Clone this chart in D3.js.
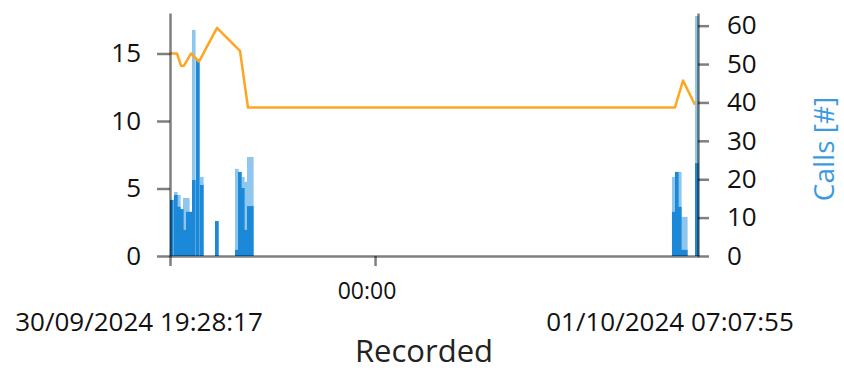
<!DOCTYPE html>
<html>
<head>
<meta charset="utf-8">
<script src="https://cdn.jsdelivr.net/npm/d3@7"></script>
<style>
  body { margin: 0; background: #fff; }
  svg { display: block; font-family: 'Open Sans', 'Noto Sans', sans-serif; }
</style>
</head>
<body>
<svg id="chart" width="844" height="374"></svg>
<script>
const parseTime = d3.timeParse('%d/%m/%Y %H:%M:%S')

// recording range + the one labelled tick in between
const timeRange = ['30/09/2024 19:28:17', '01/10/2024 07:07:55']
const midnight = '01/10/2024 00:00:00'
const midnightLabel = '00:00'
const xTitle = 'Recorded'
const rightTitle = 'Calls [#]'

// orange line, left axis
const lineTimes = [
  '30/09/2024 19:28:17', '30/09/2024 19:37:34', '30/09/2024 19:42:52', '30/09/2024 19:46:50',
  '30/09/2024 19:56:07', '30/09/2024 20:06:43', '30/09/2024 20:30:34', '30/09/2024 21:01:02',
  '30/09/2024 21:11:38', '01/10/2024 06:37:25', '01/10/2024 06:48:01', '01/10/2024 07:03:55'
]
const lineValues = [15.0, 15.0, 14.1, 14.1, 15.0, 14.4, 16.9, 15.2, 11.0, 11.0, 13.0, 11.2]

// calls per 4 minute bucket, right axis (peak = light top, base = solid part)
const callTimes = [
  '30/09/2024 19:28:17', '30/09/2024 19:33:35', '30/09/2024 19:37:34', '30/09/2024 19:41:32',
  '30/09/2024 19:45:31', '30/09/2024 19:49:29', '30/09/2024 19:53:28', '30/09/2024 19:57:26',
  '30/09/2024 20:02:44', '30/09/2024 20:08:02', '30/09/2024 20:27:55', '30/09/2024 20:54:25',
  '30/09/2024 20:58:23', '30/09/2024 21:02:22', '30/09/2024 21:06:20', '30/09/2024 21:10:19',
  '30/09/2024 21:14:17', '01/10/2024 06:33:26', '01/10/2024 06:37:25', '01/10/2024 06:41:23',
  '01/10/2024 06:45:22', '01/10/2024 06:49:20', '01/10/2024 07:04:00'
]
const callsPeak = [14.6, 16.7, 15.9, 12.2, 15.1, 15.1, 11.5, 58.9, 51.3, 20.6, 9.1, 22.7,
  21.9, 20.6, 19.3, 25.8, 25.8, 20.6, 21.9, 21.9, 10.2, 10.2, 62.5]
const callsBase = [14.6, 15.9, 12.8, 12.2, 6.8, 11.5, 11.5, 19.8, 51.3, 18.5, 9.1, 1.6,
  21.9, 17.7, 6.8, 13.0, 13.0, 11.5, 21.9, 12.8, 1.6, 1.6, 24.2]

const leftTicks = [0, 5, 10, 15]
const rightTicks = [0, 10, 20, 30, 40, 50, 60]

//
const margin = { top: 13, right: 146, bottom: 118, left: 170 }
const width = 844 - margin.left - margin.right
const height = 374 - margin.top - margin.bottom
const axisStroke = '#000'
const labelFont = "'Open Sans', 'Noto Sans', sans-serif"

const svg = d3.select('#chart')
const g = svg.append('g').attr('transform', `translate(${margin.left},${margin.top})`)

const x = d3.scaleTime()
  .domain(timeRange.map(parseTime))
  .range([0, width])
const yLeft = d3.scaleLinear().domain([0, 18]).range([height, 0])
const yRight = d3.scaleLinear().domain([0, 63.3]).range([height, 0])

const bucket = 4 * 60 * 1000
const calls = callTimes.map((t, i) => ({ t: parseTime(t), peak: callsPeak[i], base: callsBase[i] }))
// small overlap so neighbouring buckets touch
const barW = d => x(new Date(+d.t + bucket)) - x(d.t) + 0.6

// bars: light peak first, solid part on top
g.append('g').selectAll('rect')
  .data(calls)
  .join('rect')
  .attr('x', d => x(d.t))
  .attr('width', barW)
  .attr('y', d => yRight(d.peak))
  .attr('height', d => height - yRight(d.peak))
  .attr('fill', '#8ec6ee')

g.append('g').selectAll('rect')
  .data(calls)
  .join('rect')
  .attr('x', d => x(d.t))
  .attr('width', barW)
  .attr('y', d => yRight(d.base))
  .attr('height', d => height - yRight(d.base))
  .attr('fill', '#1b88d8')

// line
const lineData = lineTimes.map((t, i) => ({ t: parseTime(t), v: lineValues[i] }))
g.append('path')
  .attr('d', d3.line().x(d => x(d.t)).y(d => yLeft(d.v))(lineData))
  .attr('fill', 'none')
  .attr('stroke', '#ffa51f')
  .attr('stroke-width', 2.5)
  .attr('stroke-linejoin', 'round')

// axes
function styleAxis (sel) {
  sel.selectAll('path, line')
    .attr('stroke', axisStroke)
    .attr('stroke-opacity', 0.5)
    .attr('stroke-width', 2.5)
  sel.selectAll('text')
    .attr('fill', '#111')
    .attr('font-size', 26)
    .attr('font-family', labelFont)
}

g.append('g')
  .call(d3.axisLeft(yLeft).tickValues(leftTicks).tickSize(13).tickSizeOuter(0).tickPadding(16))
  .call(styleAxis)

g.append('g')
  .attr('transform', `translate(${width},0)`)
  .call(d3.axisRight(yRight).tickValues(rightTicks).tickSize(11).tickSizeOuter(0).tickPadding(18))
  .call(styleAxis)

const xAxis = g.append('g')
  .attr('transform', `translate(0,${height})`)
  .call(d3.axisBottom(x)
    .tickValues([parseTime(timeRange[0]), parseTime(midnight)])
    .tickSize(10).tickSizeOuter(0).tickFormat(''))
  .call(styleAxis)

// date labels under the axis
xAxis.append('text')
  .attr('x', x(parseTime(midnight)) - 8)
  .attr('y', 43)
  .attr('text-anchor', 'middle')
  .attr('font-size', 23)
  .attr('font-family', labelFont)
  .attr('fill', '#111')
  .text(midnightLabel)

xAxis.selectAll('.range-label')
  .data(timeRange)
  .join('text')
  .attr('class', 'range-label')
  .attr('x', (d, i) => x(parseTime(d)) + (i ? -28 : -31))
  .attr('y', 75)
  .attr('text-anchor', 'middle')
  .attr('font-size', 26)
  .attr('font-family', labelFont)
  .attr('fill', '#111')
  .text(d => d)

svg.append('text')
  .attr('x', 424)
  .attr('y', 362)
  .attr('text-anchor', 'middle')
  .attr('font-size', 31)
  .attr('font-family', labelFont)
  .attr('fill', '#222')
  .text(xTitle)

svg.append('text')
  .attr('transform', 'translate(834,149) rotate(-90)')
  .attr('text-anchor', 'middle')
  .attr('font-size', 28)
  .attr('font-family', labelFont)
  .attr('fill', '#3d9ae0')
  .text(rightTitle)
</script>
</body>
</html>
